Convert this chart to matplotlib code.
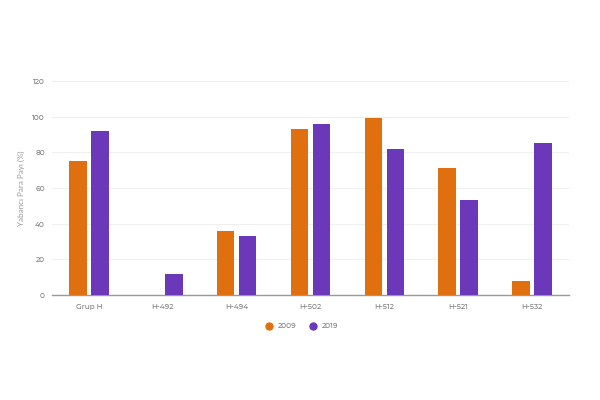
import matplotlib
matplotlib.use("Agg")
import matplotlib.pyplot as plt
from matplotlib.lines import Line2D
import numpy as np

categories = ["Grup H", "H-492", "H-494", "H-502", "H-512", "H-521", "H-532"]
v2009 = [75, 0, 36, 93, 99, 71, 8]
v2019 = [92, 12, 33, 96, 82, 53, 85]
yticks = [0, 20, 40, 60, 80, 100, 120]
c2009 = "#e0700f"
c2019 = "#6a38b9"

plt.rcParams['font.family'] = ['Montserrat Alternates', 'Lato', 'DejaVu Sans']
plt.rcParams['font.weight'] = 'medium'
txt = "#808080"

fig = plt.figure(figsize=(6, 4), dpi=100)
ax = fig.add_axes([0.0867, 0.2625, 0.8616, 0.535])
x = np.arange(len(categories))
w = 0.237
off = 0.149
ax.bar(x - off, v2009, width=w, color=c2009, zorder=3)
ax.bar(x + off, v2019, width=w, color=c2019, zorder=3)
ax.set_xlim(-0.5, len(categories) - 0.5)
ax.set_ylim(0, 120)
ax.set_yticks(yticks)
ax.set_xticks(x)
ax.set_xticklabels(categories)
ax.tick_params(axis='both', length=0, labelsize=5.3, colors=txt)
ax.tick_params(axis='x', pad=6)
ax.tick_params(axis='y', pad=5)
ax.grid(axis='y', color="#efefef", linewidth=0.8, zorder=0)
for s in ["top", "right", "left"]:
    ax.spines[s].set_visible(False)
ax.spines["bottom"].set_color("#999999")
ax.spines["bottom"].set_linewidth(1.0)
ax.set_ylabel("Yabancı Para Payı (%)", fontsize=5.8, color="#999999", labelpad=5,
              family=['Lato', 'DejaVu Sans'], fontweight='normal')

handles = [Line2D([], [], marker='o', linestyle='none', color=c2009, markersize=5, label="2009"),
           Line2D([], [], marker='o', linestyle='none', color=c2019, markersize=5, label="2019")]
fig.legend(handles=handles, loc='center', bbox_to_anchor=(0.5, 0.185), ncol=2, frameon=False,
           fontsize=5.3, labelcolor=txt, handletextpad=0.2, columnspacing=1.2)

fig.savefig("out.png", dpi=100, facecolor="white")
